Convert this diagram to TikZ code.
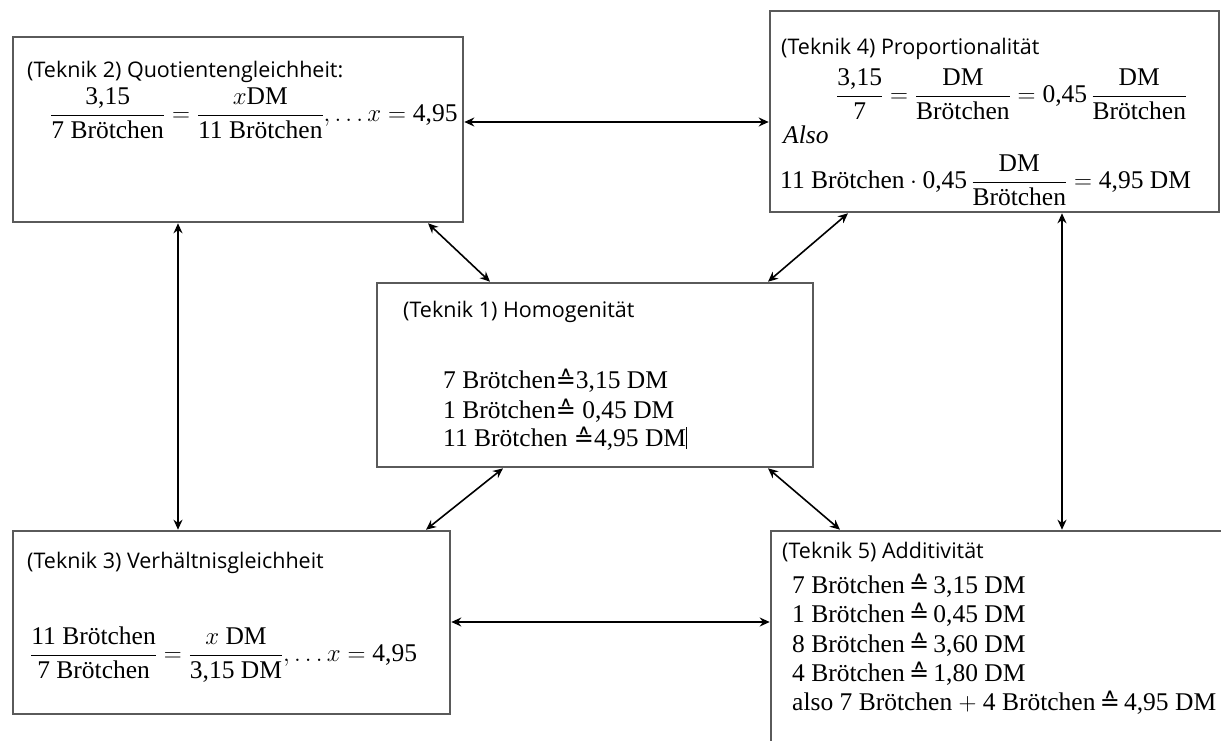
\documentclass[tikz,border=0pt]{standalone}
\usepackage{amsmath}
\usepackage{fontspec}
\setmainfont{Liberation Serif}
\newfontfamily\headfont{Open Sans}
\newfontfamily\symfont{DejaVu Sans}
\usetikzlibrary{arrows.meta,calc}
\definecolor{boxgray}{HTML}{5A5A5A}
\newcommand{\corr}{{\symfont\fontsize{24}{29}\selectfont ≙}}
\newcommand{\tx}[1]{\text{#1}}
\begin{document}
\begin{tikzpicture}[x=1pt,y=-1pt,
  box/.style={draw=boxgray, line width=2.6pt, fill=white, inner sep=0pt},
  head/.style={anchor=base west, inner sep=0pt, font=\headfont\fontsize{21.5}{25}\selectfont},
  mth/.style={anchor=base west, inner sep=0pt, font=\fontsize{25.5}{29}\selectfont},
  arr/.style={draw=black, line width=1.6pt, {Stealth[length=10pt,width=9pt]}-{Stealth[length=10pt,width=9pt]}}
]
\useasboundingbox (0,0) rectangle (1221,741);
% boxes
\node[box, minimum width=450pt, minimum height=185pt] (b2) at (238,129.5) {};
\node[box, minimum width=449pt, minimum height=201pt] (b4) at (994.5,111.5) {};
\node[box, minimum width=436pt, minimum height=184pt] (b1) at (595,375) {};
\node[box, minimum width=437pt, minimum height=183pt] (b3) at (231.5,622.5) {};
\node[box, minimum width=454pt, minimum height=229pt] (b5) at (998,645.5) {};

% box 2
\node[head] (t2) at (27,78) {(Teknik 2) Quotientengleichheit:};
\node[mth] (e2) at (50,121.5) {$\dfrac{\tx{3,15}}{\tx{7 Brötchen}} = \dfrac{x\tx{DM}}{\tx{11 Brötchen}}, \ldots x = \tx{4,95}$};

% box 4
\node[head] (t4) at (781,55) {(Teknik 4) Proportionalität};
\node[mth] (e4a) at (836,102.5) {$\dfrac{\tx{3,15}}{\tx{7}} = \dfrac{\tx{DM}}{\tx{Brötchen}} = \tx{0,45}\,\dfrac{\tx{DM}}{\tx{Brötchen}}$};
\node[mth] (e4b) at (783,143) {\textit{Also}};
\node[mth] (e4c) at (780,188.5) {$\tx{11 Brötchen}\cdot\tx{0,45}\,\dfrac{\tx{DM}}{\tx{Brötchen}} = \tx{4,95 DM}$};

% box 1
\node[head] (t1) at (403,317) {(Teknik 1) Homogenität};
\node[mth] (e1a) at (443,388) {7 Brötchen\corr3,15 DM};
\node[mth] (e1b) at (443,418) {1 Brötchen\corr\ 0,45 DM};
\node[mth] (e1c) at (443,446) {11 Brötchen \corr4,95 DM\rule[-3pt]{0.8pt}{22pt}};

% box 3
\node[head] (t3) at (27,568) {(Teknik 3) Verhältnisgleichheit};
\node[mth] (e3) at (30,661.5) {$\dfrac{\tx{11 Brötchen}}{\tx{7 Brötchen}} = \dfrac{x\ \tx{DM}}{\tx{3,15 DM}}, \ldots x = \tx{4,95}$};

% box 5
\node[head] (t5) at (782,558) {(Teknik 5) Additivität};
\node[mth] (e5a) at (792,593) {7 Brötchen\,\corr\,3,15 DM};
\node[mth] (e5b) at (792,622) {1 Brötchen\,\corr\,0,45 DM};
\node[mth] (e5c) at (792,652) {8 Brötchen\,\corr\,3,60 DM};
\node[mth] (e5d) at (792,681) {4 Brötchen\,\corr\,1,80 DM};
\node[mth] (e5e) at (792,710) {also 7 Brötchen $+$ 4 Brötchen\,\corr\,4,95 DM};

% connectors
\draw[arr] ([yshift=7.5pt]b2.east) -- ([yshift=-10.5pt]b4.west);
\draw[arr] ([xshift=-60pt]b2.south) -- ([xshift=-53.5pt]b3.north);
\draw[arr] ([xshift=67.5pt]b4.south) -- ([xshift=64pt]b5.north);
\draw[arr] ([yshift=0.5pt]b3.east) -- ([yshift=23.5pt]b5.west);
\draw[arr] ([xshift=190pt]b2.south) -- ([xshift=-105pt]b1.north);
\draw[arr] ([xshift=-146.5pt]b4.south) -- ([xshift=173pt]b1.north);
\draw[arr] ([xshift=-92pt]b1.south) -- ([xshift=194.5pt]b3.north);
\draw[arr] ([xshift=173pt]b1.south) -- ([xshift=-158pt]b5.north);
\end{tikzpicture}
\end{document}
